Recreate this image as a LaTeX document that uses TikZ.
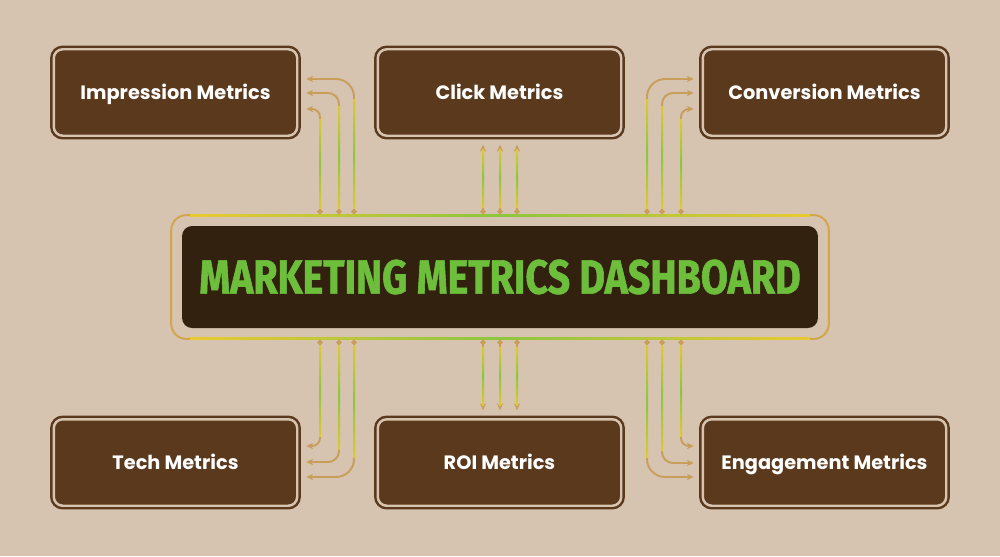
\documentclass[tikz,border=0pt]{standalone}
\usepackage{fontspec}
\setmainfont{Poppins}
\newfontfamily\titlefont{Fira Sans}[FakeStretch=0.82,FakeBold=1.2]
\usetikzlibrary{arrows.meta,fit}
\definecolor{bgtan}{HTML}{D6C4B1}
\definecolor{cardbrown}{HTML}{5A391D}
\definecolor{hubdark}{HTML}{33210F}
\definecolor{rimgold}{HTML}{D2A548}
\definecolor{wgold}{HTML}{C99E5A}
\definecolor{wyellow}{HTML}{E9C930}
\definecolor{wgreen}{HTML}{8DC63F}
\definecolor{titlegreen}{HTML}{6CBE3B}
\pgfdeclareverticalshading{wire}{100bp}{color(0bp)=(wgold); color(22bp)=(wyellow); color(50bp)=(wgreen); color(78bp)=(wyellow); color(100bp)=(wgold)}
\pgfdeclarehorizontalshading{rim}{100bp}{color(0bp)=(rimgold); color(25bp)=(wyellow); color(50bp)=(wgreen); color(75bp)=(wyellow); color(100bp)=(rimgold)}
\begin{document}
\begin{tikzpicture}[x=0.02cm,y=-0.02cm,
  card/.style={draw=cardbrown,fill=cardbrown,line width=1.4pt,double=bgtan,double distance=1.4pt,
    rounded corners=0.18cm,minimum width=4.87cm,minimum height=1.73cm,text=white,
    text height=7.7pt,text depth=0pt,font=\bfseries\fontsize{11}{13}\selectfont},
  hub/.style={fill=hubdark,rounded corners=0.2cm,minimum width=12.72cm,minimum height=2.04cm,
    text=titlegreen,font=\titlefont\bfseries\fontsize{27.3}{30}\selectfont},
  hubframe/.style={draw=rimgold,line width=1.1pt,rounded corners=0.3cm,inner sep=0.21cm},
  link/.style={draw=wgold,line width=1.1pt,{Circle[length=3pt]}-{Stealth[length=4pt,width=3.6pt]},shorten >=4.4pt}]
\fill[bgtan] (0,0) rectangle (1000,556);
%\draw[help lines] (0,0) grid[step=1cm] (1000,556);
\node[hub] (hub) at (500,277) {MARKETING METRICS DASHBOARD};
\node[hubframe,fit=(hub)] (hubf) {};
\shade[shading=rim] (190,214.5) rectangle (810,216.5);
\shade[shading=rim] (190,337.5) rectangle (810,339.5);
\node[card] (imp) at (175.5,92.5) {Impression Metrics};
\node[card] (clk) at (499.5,92.5) {Click Metrics};
\node[card] (conv) at (824.5,92.5) {Conversion Metrics};
\node[card] (tech) at (175.5,462.5) {Tech Metrics};
\node[card] (roi) at (499.5,462.5) {ROI Metrics};
\node[card] (eng) at (824.5,462.5) {Engagement Metrics};
% upper wires
\foreach \x/\y/\r in {320/109/8,339/93/11,354/79/18}{
  \draw[link,rounded corners=\r*0.02cm] (hubf.north -| \x,0) |- (imp.east |- 0,\y);
  \shade[shading=wire] (\x-1,208) rectangle (\x+1,\y+\r+2);
}
\foreach \x in {483,500,517}{
  \draw[link] (hubf.north -| \x,0) -- (clk.south -| \x,0);
  \shade[shading=wire] (\x-1,207) rectangle (\x+1,149);
}
\foreach \x/\y/\r in {647/79/18,662/93/11,681/109/8}{
  \draw[link,rounded corners=\r*0.02cm] (hubf.north -| \x,0) |- (conv.west |- 0,\y);
  \shade[shading=wire] (\x-1,208) rectangle (\x+1,\y+\r+2);
}
% lower wires
\foreach \x/\y/\r in {320/446/8,339/462/11,354/477/18}{
  \draw[link,rounded corners=\r*0.02cm] (hubf.south -| \x,0) |- (tech.east |- 0,\y);
  \shade[shading=wire] (\x-1,345) rectangle (\x+1,\y-\r-2);
}
\foreach \x in {483,500,517}{
  \draw[link] (hubf.south -| \x,0) -- (roi.north -| \x,0);
  \shade[shading=wire] (\x-1,347) rectangle (\x+1,405);
}
\foreach \x/\y/\r in {647/477/18,662/463/11,681/446/8}{
  \draw[link,rounded corners=\r*0.02cm] (hubf.south -| \x,0) |- (eng.west |- 0,\y);
  \shade[shading=wire] (\x-1,345) rectangle (\x+1,\y-\r-2);
}
\end{tikzpicture}
\end{document}
